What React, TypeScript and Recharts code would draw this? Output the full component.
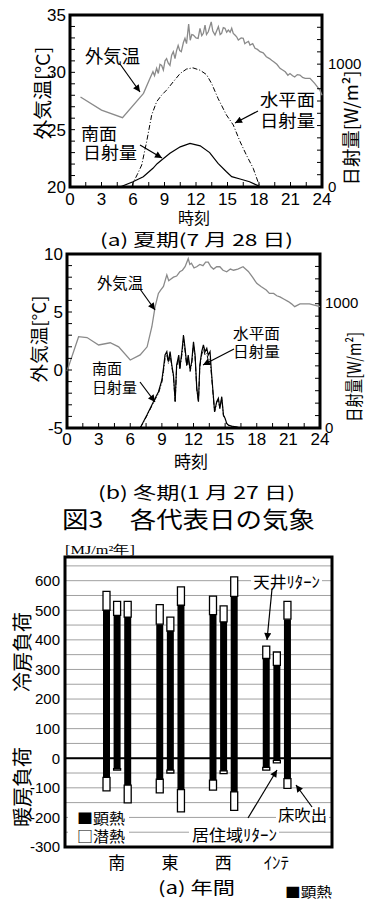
import React from 'react';
import { LineChart, Line, XAxis, YAxis, ReferenceArea, BarChart, Bar, CartesianGrid, ReferenceLine } from 'recharts';

const JP = "'Noto Sans CJK JP', 'Noto Sans', sans-serif";
const NUM = "'Liberation Sans', Arial, sans-serif";
const SERIF = "'Liberation Serif', 'DejaVu Serif', serif";

// 目盛
const hourTicks = [0, 1.5, 3, 4.5, 6, 7.5, 9, 10.5, 12, 13.5, 15, 16.5, 18, 19.5, 21, 22.5, 24];
const hourLabels = [0, 3, 6, 9, 12, 15, 18, 21, 24];
const summerTempTicks = [20, 21, 22, 23, 24, 25, 26, 27, 28, 29, 30, 31, 32, 33, 34, 35];
const summerTempLabels = [20, 25, 30, 35];
const winterTempTicks = [-5, -4, -3, -2, -1, 0, 1, 2, 3, 4, 5, 6, 7, 8, 9, 10];
const winterTempLabels = [-5, 0, 5, 10];
const solarTicks = [0, 100, 200, 300, 400, 500, 600, 700, 800, 900, 1000, 1100, 1200, 1300, 1400];
const solarLabels = [0, 1000];
const loadTicks = [-300, -250, -200, -150, -100, -50, 0, 50, 100, 150, 200, 250, 300, 350, 400, 450, 500, 550, 600, 650];
const loadLabels = [-300, -200, -100, 0, 100, 200, 300, 400, 500, 600];

// (a) 夏期 [時刻, 値]
const summerTemp: [number, number][] = [
  [1, 27.85], [3, 26.7], [5, 26.05], [7, 28.17], [7.62, 29.48], [7.9, 30.05], [8.05, 29.7], [8.25, 30.35],
  [8.41, 29.9], [8.57, 30.7], [8.73, 30.6], [8.89, 30.2], [9.05, 31.0], [9.2, 31.2], [9.36, 30.8], [9.52, 30.6],
  [9.68, 31.5], [9.84, 31.8], [10.0, 31.2], [10.15, 31.9], [10.3, 32.35], [10.45, 31.9], [10.6, 31.8],
  [10.8, 32.6], [10.95, 32.96], [11.1, 32.5], [11.3, 34.2], [11.45, 32.8], [11.6, 33.3], [11.75, 33.25],
  [12.0, 33.0], [12.2, 32.96], [12.38, 33.84], [12.55, 33.2], [12.7, 33.4], [12.86, 34.12], [13.0, 33.3],
  [13.17, 33.54], [13.45, 34.4], [13.6, 33.6], [13.81, 33.25], [14.0, 33.7], [14.13, 33.98], [14.3, 33.3],
  [14.44, 33.4], [14.6, 33.9], [14.76, 33.84], [14.92, 33.5], [15.08, 33.69], [15.25, 33.5], [15.4, 33.84],
  [15.55, 33.4], [15.71, 33.25], [15.87, 33.1], [16.03, 32.82], [16.3, 33.0], [16.5, 32.96], [16.65, 32.5],
  [16.8, 32.6], [17.0, 32.7], [17.14, 32.38], [17.4, 32.5], [17.62, 32.09], [17.85, 32.0], [18.1, 31.8],
  [18.4, 31.7], [18.7, 31.36], [19.0, 31.2], [19.2, 31.05], [19.4, 30.93], [19.7, 30.7], [20.0, 30.35],
  [20.25, 30.2], [20.5, 30.05], [20.75, 29.75], [20.95, 29.9], [21.2, 29.7], [21.4, 29.6], [21.65, 29.8],
  [21.9, 29.76], [22.15, 29.55], [22.4, 29.48], [22.86, 29.48], [23.3, 29.04], [23.8, 28.46], [24, 28.0],
];
const summerHoriz: [number, number][] = [
  [5.9, 0], [6.0, 33], [6.4, 100], [6.83, 179], [7.3, 369], [7.78, 586], [8.25, 694], [8.73, 748], [9.2, 789],
  [9.84, 857], [10.5, 925], [11.1, 960], [11.7, 970], [12.4, 950], [13.0, 915], [13.5, 840], [14.1, 721],
  [14.9, 586], [15.55, 505], [16.2, 369], [16.8, 260], [17.45, 152], [17.9, 43], [18.1, 0],
];
const summerSouth: [number, number][] = [
  [4.76, 0], [6.0, 43], [6.98, 84], [7.9, 152], [8.3, 190], [8.73, 219], [9.52, 274], [10.5, 327],
  [11.43, 355], [12.4, 335], [13.3, 280], [14.1, 192], [14.9, 124], [15.4, 84], [16.2, 65], [17.1, 43],
  [17.9, 11], [18.1, 0],
];

// (b) 冬期
const winterTemp: [number, number][] = [
  [0, -0.1], [1.1, 2.87], [1.9, 2.8], [3.0, 2.16], [4.1, 2.35], [4.9, 2.0], [6.0, 0.86], [6.94, 1.3],
  [7.6, 2.0], [8.05, 3.73], [8.36, 5.46], [8.67, 6.6], [8.9, 6.9], [9.15, 7.2], [9.47, 8.2], [9.65, 7.7],
  [9.8, 7.8], [10.1, 8.0], [10.4, 8.1], [10.7, 8.47], [10.95, 8.6], [11.2, 8.9], [11.5, 9.6], [11.65, 9.1],
  [11.8, 9.2], [12.05, 8.8], [12.3, 8.9], [12.6, 9.1], [12.9, 9.0], [13.15, 9.3], [13.4, 9.3], [13.65, 8.9],
  [13.9, 8.7], [14.2, 8.9], [14.5, 8.9], [14.8, 8.6], [15.15, 8.47], [15.5, 8.7], [15.8, 8.6], [16.2, 8.7],
  [16.7, 8.9], [17.2, 8.5], [17.6, 8.0], [18.0, 7.47], [18.4, 7.2], [18.9, 6.9], [19.2, 6.6], [19.6, 6.6],
  [19.9, 6.4], [20.2, 6.3], [20.6, 6.1], [21.0, 5.9], [21.3, 5.7], [21.6, 5.46], [22.1, 5.7], [23.0, 5.7],
  [24, 5.46],
];
const winterHoriz: [number, number][] = [
  [6.94, 0], [7.58, 98], [8.05, 178], [8.36, 230], [8.68, 280], [9.0, 370], [9.15, 455], [9.3, 560],
  [9.47, 590], [9.62, 520], [9.78, 590], [9.94, 495], [10.1, 410], [10.26, 215], [10.4, 490], [10.6, 565],
  [10.7, 470], [10.9, 590], [11.05, 720], [11.2, 620], [11.36, 495], [11.5, 565], [11.68, 455], [11.83, 515],
  [12.0, 670], [12.15, 570], [12.31, 315], [12.47, 215], [12.6, 490], [12.78, 590], [12.94, 640], [13.1, 585],
  [13.26, 600], [13.4, 540], [13.57, 560], [13.7, 430], [13.9, 230], [14.0, 130], [14.2, 205], [14.36, 230],
  [14.5, 155], [14.68, 240], [14.84, 100], [15.0, 75], [15.15, 35], [15.3, 22], [15.6, 14], [16.0, 8], [16.5, 0],
];
const winterSouth: [number, number][] = [
  [6.94, 0], [7.58, 104], [8.05, 185], [8.36, 239], [8.68, 292], [9.0, 386], [9.15, 480], [9.3, 587],
  [9.47, 614], [9.62, 533], [9.78, 614], [9.94, 507], [10.1, 426], [10.26, 212], [10.4, 507], [10.6, 587],
  [10.7, 480], [10.9, 614], [11.05, 748], [11.2, 641], [11.36, 507], [11.5, 587], [11.68, 467], [11.83, 533],
  [12.0, 694], [12.15, 587], [12.31, 319], [12.47, 212], [12.6, 507], [12.78, 614], [12.94, 668], [13.1, 614],
  [13.26, 641], [13.4, 587], [13.57, 614], [13.7, 453], [13.9, 239], [14.0, 132], [14.2, 212], [14.36, 239],
  [14.5, 159], [14.68, 252], [14.84, 104], [15.0, 77], [15.15, 37], [15.3, 24], [15.6, 15], [16.0, 10], [16.5, 0],
];

// 年間負荷 [MJ/m²年]  天井ﾘﾀｰﾝ / 居住域ﾘﾀｰﾝ / 床吹出
const loadCats = ['南', '東', '西', 'ｲﾝﾃ'];
const ceilCoolSens = [500, 453, 485, 337];
const ceilCoolLat = [64, 66, 63, 42];
const ceilHeatSens = [-65, -71, -74, -31];
const ceilHeatLat = [-45, -46, -34, -9];
const occCoolSens = [483, 430, 461, 314];
const occCoolLat = [47, 47, 54, 45];
const occHeatSens = [-35, -40, -43, -7];
const occHeatLat = [-5, -10, -9, -9];
const floorCoolSens = [477, 517, 547, 470];
const floorCoolLat = [53, 62, 66, 60];
const floorHeatSens = [-91, -106, -114, -69];
const floorHeatLat = [-60, -75, -62, -33];

const loadData = loadCats.map((cat, i) => ({
  cat,
  cS1: ceilCoolSens[i], cL1: ceilCoolLat[i], hS1: ceilHeatSens[i], hL1: ceilHeatLat[i],
  cS2: occCoolSens[i], cL2: occCoolLat[i], hS2: occHeatSens[i], hL2: occHeatLat[i],
  cS3: floorCoolSens[i], cL3: floorCoolLat[i], hS3: floorHeatSens[i], hL3: floorHeatLat[i],
}));

const toPts = (arr: [number, number][]) => arr.map(([h, v]) => ({ h, v }));

const makeTick = (labels: number[], anchor: 'start' | 'middle' | 'end', size: number, dy: string) =>
  (props: any) => {
    const { x, y, payload } = props;
    if (!labels.includes(payload.value)) return <g />;
    return (
      <text x={x} y={y} dy={dy} textAnchor={anchor} fontSize={size} fontFamily={NUM} fill="#000">
        {payload.value}
      </text>
    );
  };

const CatTick = (props: any) => {
  const { x, y, payload } = props;
  return (
    <text x={x} y={y} textAnchor="middle" dominantBaseline="central" fontSize={17} fontFamily={JP} fill="#000">
      {payload.value}
    </text>
  );
};

interface WeatherProps {
  top: number;
  plotTop: number;
  plotBottom: number;
  plotLeft: number;
  plotRight: number;
  tempDomain: [number, number];
  tempTicks: number[];
  tempLabels: number[];
  temp: [number, number][];
  horiz: [number, number][];
  south: [number, number][];
  rightMargin: number;
  bottomMargin: number;
}

const H = 210;

const WeatherChart = (p: WeatherProps) => (
  <div style={{ position: 'absolute', left: 0, top: p.top }}>
    <LineChart width={377} height={H} margin={{ top: p.plotTop - 1, right: 0, bottom: 0, left: 0 }}>
      <XAxis xAxisId="t" orientation="top" type="number" domain={[0, 24]} ticks={hourTicks} interval={0}
        height={1} tick={false} tickSize={-5} axisLine={false} tickLine={{ stroke: '#000' }} />
      <XAxis xAxisId="b" dataKey="h" type="number" domain={[0, 24]} ticks={hourTicks} interval={0}
        height={H - p.plotBottom} tickSize={-5} tickMargin={p.bottomMargin} axisLine={false}
        tickLine={{ stroke: '#000' }} tick={makeTick(hourLabels, 'middle', 17, '0.71em')} />
      <YAxis yAxisId="l" domain={p.tempDomain} ticks={p.tempTicks} interval={0} width={p.plotLeft}
        tickSize={-5} tickMargin={9} axisLine={false} tickLine={{ stroke: '#000' }}
        tick={makeTick(p.tempLabels, 'end', 17, '0.36em')} allowDataOverflow />
      <YAxis yAxisId="r" orientation="right" domain={[0, 1400]} ticks={solarTicks} interval={0}
        width={377 - p.plotRight} tickSize={-5} tickMargin={p.rightMargin} axisLine={false}
        tickLine={{ stroke: '#000' }} tick={makeTick(solarLabels, 'start', 15, '0.3em')} allowDataOverflow />
      <Line data={toPts(p.temp)} dataKey="v" xAxisId="b" yAxisId="l" type="linear" stroke="#8a8a8a"
        strokeWidth={1.3} dot={false} isAnimationActive={false} />
      <Line data={toPts(p.horiz)} dataKey="v" xAxisId="b" yAxisId="r" type="linear" stroke="#000"
        strokeWidth={1} strokeDasharray="5 2 1 2" dot={false} isAnimationActive={false} />
      <Line data={toPts(p.south)} dataKey="v" xAxisId="b" yAxisId="r" type="linear" stroke="#000"
        strokeWidth={1.2} dot={false} isAnimationActive={false} />
      <ReferenceArea xAxisId="b" yAxisId="l" x1={0} x2={24} y1={p.tempDomain[0]} y2={p.tempDomain[1]}
        fill="none" fillOpacity={0} stroke="#000" strokeWidth={3} />
    </LineChart>
  </div>
);

const T = (props: any) => {
  const { x, y, children, size = 16, tl, anchor = 'start', font = JP, rot } = props;
  if (rot) {
    return (
      <text transform={`translate(${x},${y}) rotate(-90)`} textAnchor="middle" dominantBaseline="central"
        fontSize={size} fontFamily={font} textLength={tl} lengthAdjust="spacingAndGlyphs" fill="#000">
        {children}
      </text>
    );
  }
  return (
    <text x={x} y={y} textAnchor={anchor} dominantBaseline="central" fontSize={size} fontFamily={font}
      textLength={tl} lengthAdjust="spacingAndGlyphs" fill="#000">
      {children}
    </text>
  );
};

const Arrow = ({ x1, y1, x2, y2 }: any) => (
  <line x1={x1} y1={y1} x2={x2} y2={y2} stroke="#000" strokeWidth={1.2} markerEnd="url(#ah)" />
);

const App = () => {
  return (
    <div style={{ position: 'absolute', left: 0, top: 0, width: 377, height: 899, background: '#fff', overflow: 'hidden' }}>
      <WeatherChart top={0} plotTop={15} plotBottom={187} plotLeft={70} plotRight={322}
        tempDomain={[20, 35]} tempTicks={summerTempTicks} tempLabels={summerTempLabels}
        temp={summerTemp} horiz={summerHoriz} south={summerSouth} rightMargin={11} bottomMargin={11} />
      <WeatherChart top={240} plotTop={14} plotBottom={188} plotLeft={67} plotRight={320}
        tempDomain={[-5, 10]} tempTicks={winterTempTicks} tempLabels={winterTempLabels}
        temp={winterTemp} horiz={winterHoriz} south={winterSouth} rightMargin={10} bottomMargin={10} />

      <div style={{ position: 'absolute', left: 0, top: 540 }}>
        <BarChart width={377} height={345} data={loadData} margin={{ top: 17, right: 45, bottom: 0, left: 0 }}
          stackOffset="sign" barSize={7} barGap={3.6}>
          <CartesianGrid vertical={false} stroke="#a0a0a0" strokeWidth={1} />
          <XAxis dataKey="cat" height={38} padding={{ left: 25, right: 29 }} axisLine={false} tickLine={false}
            tickSize={0} tickMargin={14} tick={CatTick} interval={0} />
          <YAxis domain={[-300, 680]} ticks={loadTicks} interval={0} width={65} axisLine={false} tickLine={false}
            tickSize={0} tickMargin={5} tick={makeTick(loadLabels, 'end', 15, '0.36em')} allowDataOverflow />
          <ReferenceLine y={0} stroke="#000" strokeWidth={2} />
          <Bar stackId="a" dataKey="cS1" fill="#000" isAnimationActive={false} />
          <Bar stackId="a" dataKey="cL1" fill="#fff" stroke="#000" strokeWidth={1.3} isAnimationActive={false} />
          <Bar stackId="a" dataKey="hS1" fill="#000" isAnimationActive={false} />
          <Bar stackId="a" dataKey="hL1" fill="#fff" stroke="#000" strokeWidth={1.3} isAnimationActive={false} />
          <Bar stackId="b" dataKey="cS2" fill="#000" isAnimationActive={false} />
          <Bar stackId="b" dataKey="cL2" fill="#fff" stroke="#000" strokeWidth={1.3} isAnimationActive={false} />
          <Bar stackId="b" dataKey="hS2" fill="#000" isAnimationActive={false} />
          <Bar stackId="b" dataKey="hL2" fill="#fff" stroke="#000" strokeWidth={1.3} isAnimationActive={false} />
          <Bar stackId="c" dataKey="cS3" fill="#000" isAnimationActive={false} />
          <Bar stackId="c" dataKey="cL3" fill="#fff" stroke="#000" strokeWidth={1.3} isAnimationActive={false} />
          <Bar stackId="c" dataKey="hS3" fill="#000" isAnimationActive={false} />
          <Bar stackId="c" dataKey="hL3" fill="#fff" stroke="#000" strokeWidth={1.3} isAnimationActive={false} />
        </BarChart>
      </div>

      <svg width={377} height={899} style={{ position: 'absolute', left: 0, top: 0, pointerEvents: 'none' }}>
        <defs>
          <marker id="ah" viewBox="0 0 10 10" refX="10" refY="5" markerWidth="9" markerHeight="7"
            markerUnits="userSpaceOnUse" orient="auto">
            <path d="M0,0 L10,5 L0,10 z" fill="#000" />
          </marker>
        </defs>

        {/* (a) 夏期 */}
        <T x={41.5} y={93} size={19} tl={93} rot>外気温[°C]</T>
        <T x={350} y={128} size={18} tl={115} rot>日射量[W/m²]</T>
        <T x={85} y={55} size={18} tl={55}>外気温</T>
        <Arrow x1={120} y1={64} x2={140} y2={92} />
        <T x={260} y={99} size={16.5} tl={55}>水平面</T>
        <T x={260} y={120} size={16.5} tl={55}>日射量</T>
        <Arrow x1={258} y1={111} x2={235} y2={123} />
        <T x={81} y={133} size={16.5} tl={36}>南面</T>
        <T x={83} y={152} size={16.5} tl={54}>日射量</T>
        <Arrow x1={140} y1={145} x2={162} y2={158} />
        <T x={194} y={217} size={16} anchor="middle">時刻</T>
        <T x={100} y={239} size={16.5} tl={193}>(a) 夏期(7 月 28 日)</T>

        {/* (b) 冬期 */}
        <T x={37.5} y={339} size={18} tl={87} rot>外気温[°C]</T>
        <T x={353} y={377} size={18} tl={90} rot>日射量[W/m²]</T>
        <T x={97} y={282} size={15.5} tl={46}>外気温</T>
        <Arrow x1={140} y1={289} x2={155} y2={310} />
        <T x={233} y={332} size={14.5} tl={47}>水平面</T>
        <T x={233} y={350} size={14.5} tl={47}>日射量</T>
        <Arrow x1={234} y1={349} x2={203} y2={365} />
        <T x={92} y={367} size={14.5} tl={30}>南面</T>
        <T x={92} y={386} size={14.5} tl={45}>日射量</T>
        <Arrow x1={140} y1={382} x2={155} y2={402} />
        <T x={191} y={460} size={17} anchor="middle">時刻</T>
        <T x={98} y={491} size={17} tl={197}>(b) 冬期(1 月 27 日)</T>
        <T x={62} y={518} size={23} tl={253}>図3　各代表日の気象</T>

        {/* (a) 年間 */}
        <rect x={65} y={557} width={267} height={290} fill="none" stroke="#000" strokeWidth={3} />
        <T x={65} y={549} size={13} tl={70} font={SERIF}>[MJ/m²年]</T>
        <T x={21} y={652} size={20} tl={80} rot>冷房負荷</T>
        <T x={21} y={787} size={20} tl={80} rot>暖房負荷</T>
        <rect x={68} y={808} width={61} height={35} fill="#fff" />
        <T x={77} y={817} size={14.5} tl={48}>■顕熱</T>
        <T x={77} y={835} size={14.5} tl={48}>□潜熱</T>
        <rect x={251} y={573} width={71} height={16} fill="#fff" />
        <T x={253} y={581} size={16} tl={67}>天井ﾘﾀｰﾝ</T>
        <Arrow x1={272} y1={589} x2={267} y2={640} />
        <rect x={276} y={806} width={53} height={17} fill="#fff" />
        <T x={278} y={814} size={16} tl={49}>床吹出</T>
        <Arrow x1={312} y1={807} x2={296} y2={785} />
        <rect x={189} y={826} width={90} height={17} fill="#fff" />
        <T x={192} y={834} size={16} tl={85}>居住域ﾘﾀｰﾝ</T>
        <Arrow x1={248} y1={818} x2={277} y2={770} />
        <T x={158} y={886} size={17} tl={77}>(a) 年間</T>
        <T x={285} y={891} size={14} tl={47}>■顕熱</T>
      </svg>
    </div>
  );
};

export default App;
